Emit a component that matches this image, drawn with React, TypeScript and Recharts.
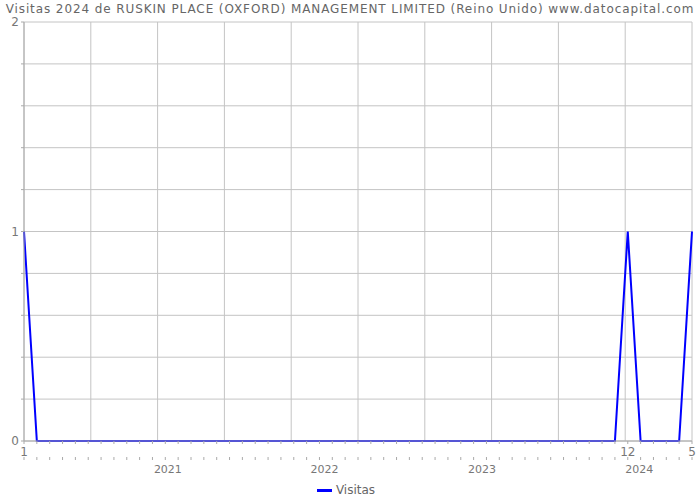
import React from "react";
import { LineChart, Line, XAxis, YAxis, CartesianGrid, Legend } from "recharts";

const FONT = "'DejaVu Sans', sans-serif";

const periods = [
  "2020-01", "2020-02", "2020-03", "2020-04", "2020-05", "2020-06", "2020-07", "2020-08", "2020-09", "2020-10", "2020-11", "2020-12",
  "2021-01", "2021-02", "2021-03", "2021-04", "2021-05", "2021-06", "2021-07", "2021-08", "2021-09", "2021-10", "2021-11", "2021-12",
  "2022-01", "2022-02", "2022-03", "2022-04", "2022-05", "2022-06", "2022-07", "2022-08", "2022-09", "2022-10", "2022-11", "2022-12",
  "2023-01", "2023-02", "2023-03", "2023-04", "2023-05", "2023-06", "2023-07", "2023-08", "2023-09", "2023-10", "2023-11", "2023-12",
  "2024-01", "2024-02", "2024-03", "2024-04", "2024-05",
];

const visitas = [
  1, 0, 0, 0, 0, 0, 0, 0, 0, 0, 0, 0,
  0, 0, 0, 0, 0, 0, 0, 0, 0, 0, 0, 0,
  0, 0, 0, 0, 0, 0, 0, 0, 0, 0, 0, 0,
  0, 0, 0, 0, 0, 0, 0, 0, 0, 0, 0, 1,
  0, 0, 0, 0, 1,
];

// months that get a number under the axis
const labeledMonths = [0, 47, 52];
const yTicks = [0, 0.2, 0.4, 0.6, 0.8, 1, 1.2, 1.4, 1.6, 1.8, 2];
const yLabels = [0, 1, 2];
const yearPositions = [11.2, 23.4, 35.65, 47.9];
const yearLabels = ["2021", "2022", "2023", "2024"];

const data = periods.map((p, i) => ({ i, period: p, visitas: visitas[i] }));
const monthIndexes = periods.map((_, i) => i);

const GRID = "#c4c4c4";
const AXIS = "#aaaaaa";
const TEXT = "#777777";

function MonthTick({ x, y, payload }: any) {
  const i = payload.value;
  const label = labeledMonths.includes(i) ? String(Number(periods[i].slice(5))) : null;
  return (
    <g>
      <line x1={x} x2={x} y1={y + 13} y2={y + 16} stroke={AXIS} />
      {label && (
        <text x={x} y={y + 12} textAnchor="middle" fontSize={12} fill={TEXT} fontFamily={FONT}>
          {label}
        </text>
      )}
    </g>
  );
}

function YearTick({ x, y, payload }: any) {
  const idx = yearPositions.indexOf(payload.value);
  return (
    <text x={x} y={y + 14} textAnchor="middle" fontSize={11} fill={TEXT} fontFamily={FONT}>
      {yearLabels[idx]}
    </text>
  );
}

function ValueTick({ x, y, payload }: any) {
  if (!yLabels.includes(payload.value)) return <g />;
  return (
    <text x={x} y={y + 4} textAnchor="end" fontSize={12} fill={TEXT} fontFamily={FONT}>
      {payload.value}
    </text>
  );
}

function LegendContent() {
  return (
    <div style={{ display: "flex", justifyContent: "center", alignItems: "center", fontFamily: FONT, fontSize: 12, color: "#666", height: 16 }}>
      <span style={{ display: "inline-block", width: 15, height: 3, background: "#0000ff", marginRight: 4 }} />
      Visitas
    </div>
  );
}

export default function App() {
  return (
    <div style={{ position: "absolute", left: 0, top: 0, width: 700, height: 500, background: "#fff" }}>
      <div
        style={{
          position: "absolute",
          top: 2,
          left: 0,
          width: 700,
          textAlign: "center",
          fontFamily: FONT,
          fontSize: 12,
          letterSpacing: 0.9,
          color: "#666",
          whiteSpace: "nowrap",
        }}
      >
        Visitas 2024 de RUSKIN PLACE (OXFORD) MANAGEMENT LIMITED (Reino Unido) www.datocapital.com
      </div>
      <LineChart width={700} height={500} data={data} margin={{ top: 22, right: 8, left: 0, bottom: 0 }}>
        <CartesianGrid
          stroke={GRID}
          verticalCoordinatesGenerator={({ offset }: any) =>
            [0, 1, 2, 3, 4, 5, 6, 7, 8, 9, 10].map((k) => offset.left + (offset.width * k) / 10)
          }
        />
        <XAxis
          dataKey="i"
          type="number"
          domain={[0, 52]}
          ticks={monthIndexes}
          interval={0}
          tickSize={3}
          tickMargin={0}
          stroke={AXIS}
          tick={<MonthTick />}
          height={18}
        />
        <XAxis
          xAxisId="year"
          dataKey="i"
          type="number"
          domain={[0, 52]}
          ticks={yearPositions}
          interval={0}
          axisLine={false}
          tickLine={false}
          tickSize={0}
          tickMargin={0}
          tick={<YearTick />}
          height={20}
        />
        <YAxis
          domain={[0, 2]}
          ticks={yTicks}
          interval={0}
          width={24}
          tickSize={3}
          tickMargin={2}
          stroke={AXIS}
          tick={<ValueTick />}
        />
        <Legend
          verticalAlign="bottom"
          height={21}
          wrapperStyle={{ top: 482, bottom: "auto" }}
          content={<LegendContent />}
        />
        <Line
          type="linear"
          dataKey="visitas"
          stroke="#0000ff"
          strokeWidth={2}
          dot={false}
          isAnimationActive={false}
        />
      </LineChart>
    </div>
  );
}
